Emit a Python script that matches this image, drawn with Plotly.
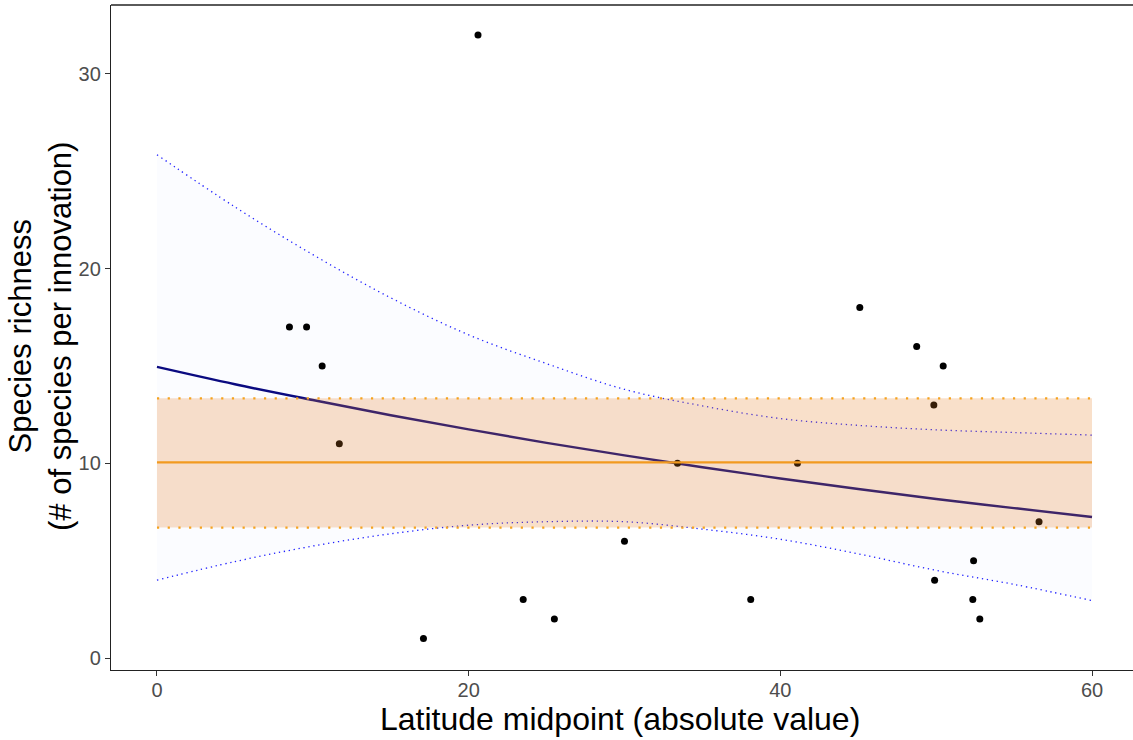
import plotly.graph_objects as go

# Observed data points
lat_x = [8.5, 9.6, 10.6, 11.7, 17.1, 20.6, 23.5, 25.5, 30.0, 33.4, 38.1,
         41.1, 45.1, 48.75, 49.85, 49.9, 50.45, 52.4, 52.35, 52.8, 56.6]
rich_y = [17, 17, 15, 11, 1, 32, 3, 2, 6, 10, 3,
          10, 18, 16, 13, 4, 15, 5, 3, 2, 7]

# Fitted curve and its confidence bounds
fit_x = [0, 5, 10, 15, 20, 25, 30, 35, 40, 45, 50, 55, 60]
fit_mean = [14.95, 14.06, 13.25, 12.47, 11.74, 11.05, 10.41, 9.80, 9.22, 8.68, 8.17, 7.70, 7.24]
fit_upper = [25.85, 23.17, 20.72, 18.5, 16.6, 15.12, 13.8, 12.95, 12.3, 11.95, 11.72, 11.58, 11.45]
fit_lower = [4.0, 4.95, 5.75, 6.38, 6.82, 7.0, 7.0, 6.62, 6.1, 5.35, 4.5, 3.78, 2.95]

# Null model (mean and bounds)
null_x = [0, 60]
null_mean = [10.05, 10.05]
null_upper = [13.34, 13.34]
null_lower = [6.70, 6.70]

x_ticks = [0, 20, 40, 60]
y_ticks = [0, 10, 20, 30]

FONT = "Liberation Sans, Arial, sans-serif"

fig = go.Figure()

# blue ribbon
fig.add_trace(go.Scatter(x=fit_x, y=fit_lower, mode="lines", line=dict(width=0, shape="spline"),
                         showlegend=False, hoverinfo="skip"))
fig.add_trace(go.Scatter(x=fit_x, y=fit_upper, mode="lines", line=dict(width=0, shape="spline"),
                         fill="tonexty", fillcolor="rgba(40,100,255,0.02)",
                         showlegend=False, hoverinfo="skip"))
# blue dotted bounds
for yy in (fit_upper, fit_lower):
    fig.add_trace(go.Scatter(x=fit_x, y=yy, mode="lines",
                             line=dict(color="#2020FF", width=1.3, dash="1.3px,3.7px", shape="spline"),
                             showlegend=False, hoverinfo="skip"))
# fitted line
fig.add_trace(go.Scatter(x=fit_x, y=fit_mean, mode="lines",
                         line=dict(color="#0A0A80", width=2.4, shape="spline"),
                         showlegend=False, hoverinfo="skip"))
# points
fig.add_trace(go.Scatter(x=lat_x, y=rich_y, mode="markers",
                         marker=dict(color="black", size=7),
                         showlegend=False, hoverinfo="skip"))
# orange band (over points)
fig.add_trace(go.Scatter(x=null_x, y=null_lower, mode="lines", line=dict(width=0),
                         showlegend=False, hoverinfo="skip"))
fig.add_trace(go.Scatter(x=null_x, y=null_upper, mode="lines", line=dict(width=0),
                         fill="tonexty", fillcolor="rgba(230,126,34,0.24)",
                         showlegend=False, hoverinfo="skip"))
for yy in (null_upper, null_lower):
    fig.add_trace(go.Scatter(x=null_x, y=yy, mode="lines",
                             line=dict(color="#F5A21E", width=2.2, dash="2.2px,8.5px"),
                             showlegend=False, hoverinfo="skip"))
fig.add_trace(go.Scatter(x=null_x, y=null_mean, mode="lines",
                         line=dict(color="#F29A1F", width=2.2),
                         showlegend=False, hoverinfo="skip"))

axis_common = dict(
    showgrid=False, zeroline=False, showline=True, linecolor="#222222", linewidth=1.4,
    ticks="outside", ticklen=5, tickwidth=1.3, tickcolor="#333333",
    tickfont=dict(family=FONT, size=20, color="#4D4D4D"),
)

fig.update_layout(
    width=1133, height=740,
    margin=dict(l=111, r=0, t=5, b=70),
    paper_bgcolor="white", plot_bgcolor="white",
    xaxis=dict(range=[-2.95, 62.63], tickvals=x_ticks, ticktext=[str(v) for v in x_ticks],
               ticklabelstandoff=-3, **axis_common),
    yaxis=dict(range=[-0.616, 33.54], tickvals=y_ticks, ticktext=[str(v) for v in y_ticks],
               **axis_common),
    shapes=[dict(type="line", xref="paper", yref="paper", x0=0, x1=1, y0=1, y1=1,
                 line=dict(color="#5A5A5A", width=2))],
    annotations=[
        dict(text="Latitude midpoint (absolute value)", xref="paper", yref="paper",
             x=(620 - 111) / 1022, y=(670 - 719) / 665, xanchor="center", yanchor="middle",
             showarrow=False, font=dict(family=FONT, size=32, color="black")),
        dict(text="Species richness<br>(# of species per innovation)", xref="paper", yref="paper",
             x=(41 - 111) / 1022, y=(670 - 337) / 665, xanchor="center", yanchor="middle",
             textangle=-90, showarrow=False,
             font=dict(family=FONT, size=31, color="black")),
    ],
)

fig.write_html("out.html")
